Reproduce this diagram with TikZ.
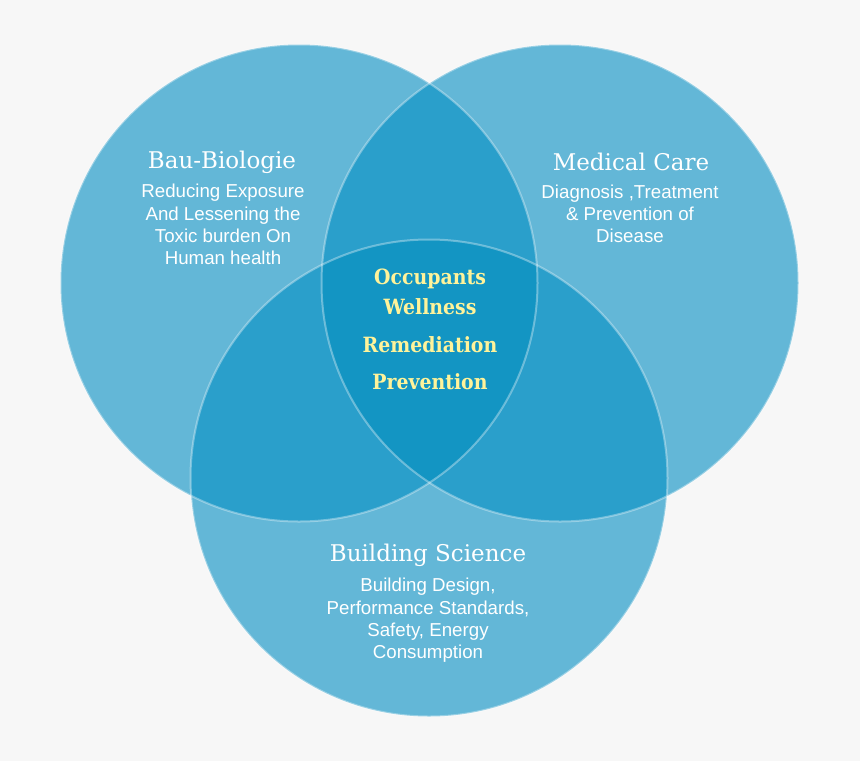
\documentclass[tikz,border=0pt]{standalone}
\usepackage{fontspec}
\setmainfont{Liberation Sans}
\newfontfamily\slab{DejaVu Serif}
\newfontfamily\slabc{DejaVu Serif Condensed}
\definecolor{bg}{HTML}{F7F7F7}
\definecolor{cone}{HTML}{63B7D7}
\definecolor{ctwo}{HTML}{2A9FCB}
\definecolor{cthree}{HTML}{1395C3}
\definecolor{yel}{HTML}{FFF39A}
\begin{document}
\begin{tikzpicture}[x=1pt,y=-1pt,
  title/.style={text=white,font=\slab\fontsize{23}{26}\selectfont,inner sep=0pt},
  body/.style={text=white,font=\fontsize{18.7}{22.3}\selectfont,align=center,inner sep=0pt},
  core/.style={text=yel,font=\slabc\bfseries\fontsize{21}{28}\selectfont,inner sep=0pt},
  rim/.style={draw=white,draw opacity=0.35,line width=2pt}]
\fill[bg] (0,0) rectangle (860,761);
\useasboundingbox (0,0) rectangle (860,761);
\coordinate (A) at (299,283);
\coordinate (B) at (560,283);
\coordinate (C) at (429,478);
\def\R{238.5}
\fill[cone] (A) circle[radius=\R];
\fill[cone] (B) circle[radius=\R];
\fill[cone] (C) circle[radius=\R];
\begin{scope}
  \clip (A) circle[radius=\R];
  \fill[ctwo] (B) circle[radius=\R];
  \fill[ctwo] (C) circle[radius=\R];
\end{scope}
\begin{scope}
  \clip (B) circle[radius=\R];
  \fill[ctwo] (C) circle[radius=\R];
\end{scope}
\begin{scope}
  \clip (A) circle[radius=\R];
  \clip (B) circle[radius=\R];
  \fill[cthree] (C) circle[radius=\R];
\end{scope}
\draw[rim] (A) circle[radius=\R];
\draw[rim] (B) circle[radius=\R];
\draw[rim] (C) circle[radius=\R];
% texts
\node[title] (t1) at (222,162) {Bau-Biologie};
\node[body] (b1) at (223,224.5) {Reducing Exposure\\And Lessening the\\Toxic burden On\\Human health};
\node[title] (t2) at (631,162) {Medical Care};
\node[body] (b2) at (630,214) {Diagnosis ,Treatment\\\& Prevention of\\Disease};
\node[title] (t3) at (428,555) {Building Science};
\node[body] (b3) at (428,620.5) {Building Design,\\Performance Standards,\\Safety, Energy\\Consumption};
\node[core] (k1) at (430,279) {Occupants};
\node[core] (k2) at (430,307) {Wellness};
\node[core] (k3) at (430,345) {Remediation};
\node[core] (k4) at (430,382) {Prevention};
\end{tikzpicture}
\end{document}
